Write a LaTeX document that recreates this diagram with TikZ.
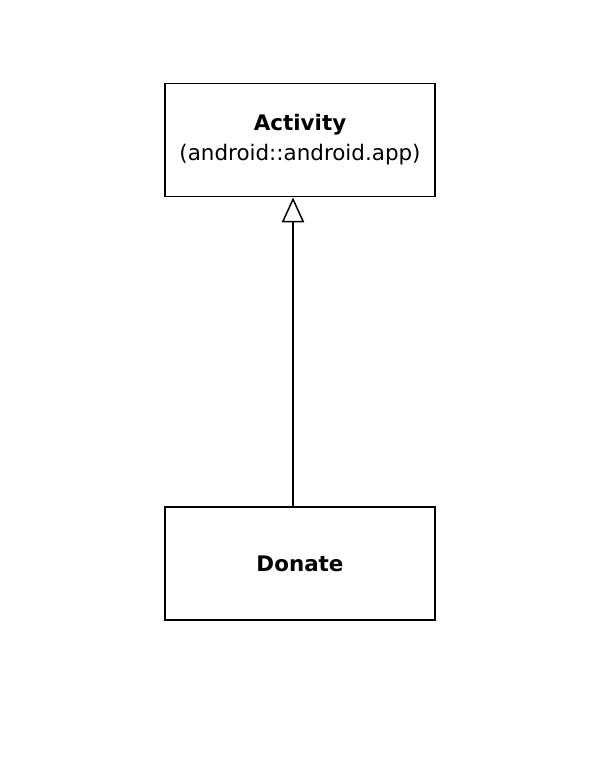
\documentclass[tikz,border=0pt]{standalone}
\usepackage{fontspec}
\setmainfont{DejaVu Sans}
\usepackage{tikz}
\usetikzlibrary{arrows.meta,positioning}

\begin{document}
\begin{tikzpicture}[x=0.02cm,y=-0.02cm,
    classbox/.style={draw,rectangle,line width=0.85pt,minimum width=5.4cm,minimum height=2.27cm,align=center,font=\fontsize{12.2}{17}\selectfont}]
            \useasboundingbox (0,0) rectangle (600,770);

            % Classes
            \node[classbox] (activity) at (300,140) {\textbf{Activity}\\(android::android.app)};
            \node[classbox] (donate) at (300,563.5) {\textbf{Donate}};

            % Generalization
            \draw[line width=0.85pt,-{Triangle[open,length=0.5cm,width=0.45cm]}] ([xshift=-0.14cm]donate.north) -- ([xshift=-0.14cm]activity.south);
        \end{tikzpicture}
\end{document}
